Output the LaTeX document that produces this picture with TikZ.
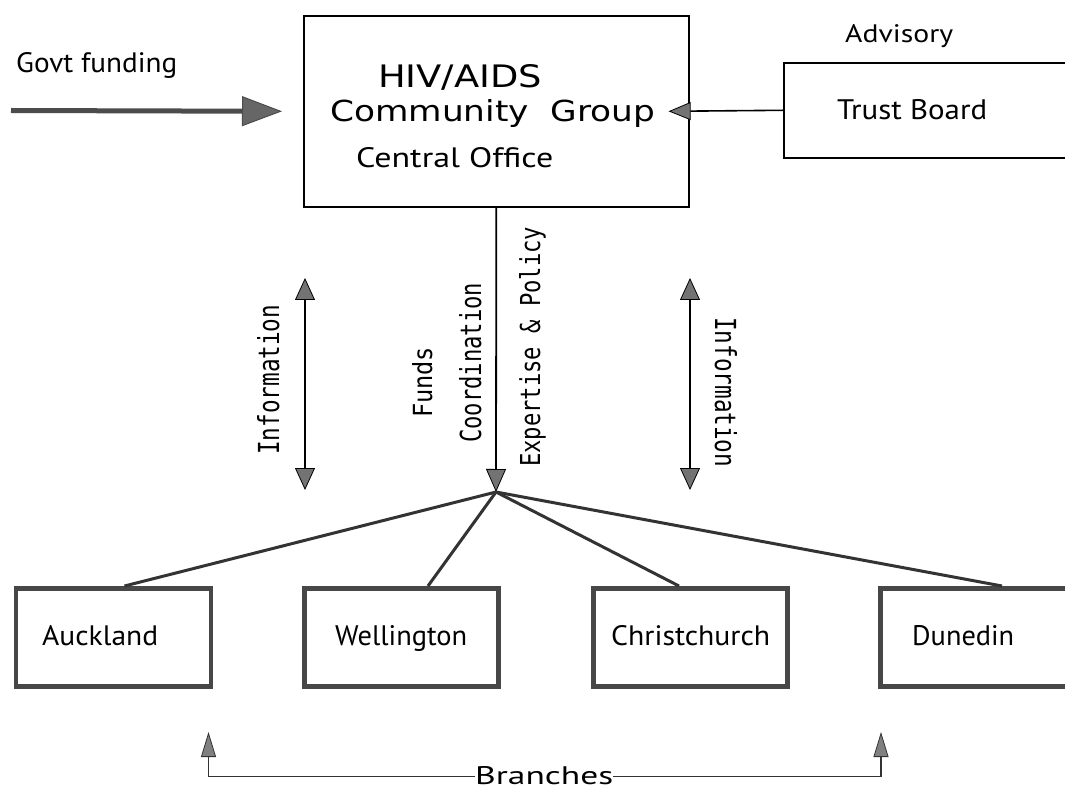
\documentclass[tikz,border=0pt]{standalone}
\usepackage{fontspec}
\setmainfont{PT Sans}
\newfontfamily\genevafont{DejaVu Sans}
\newfontfamily\monofont{DejaVu Sans Mono}
\usetikzlibrary{arrows.meta}
\newcommand{\fitbox}[3]{\resizebox{#1pt}{#2pt}{#3}}
\begin{document}
\begin{tikzpicture}[x=1pt,y=-1pt,
  lbl/.style={inner sep=0pt, anchor=base west},
  mainbox/.style={draw, line width=1.6pt, inner sep=0pt, anchor=north west},
  bbox/.style={draw=black!72, line width=4.5pt, inner sep=0pt, anchor=north west, minimum height=98pt},
  fanl/.style={draw=black!80, line width=3pt},
  govtarr/.style={draw=black!70, line width=5pt, -{Triangle[length=40pt,width=30pt,fill=black!60,line width=1pt]}},
  trustarr/.style={draw=black, line width=1.6pt, -{Triangle[length=22pt,width=18pt,fill=black!55,line width=0.8pt]}},
  downarr/.style={draw=black, line width=1.8pt, -{Triangle[length=23pt,width=20pt,fill=black!55,line width=0.8pt]}},
  infoarr/.style={draw=black, line width=1.8pt, {Triangle[length=22pt,width=20pt,fill=black!55,line width=0.8pt]}-{Triangle[length=22pt,width=20pt,fill=black!55,line width=0.8pt]}},
  brarr/.style={draw=black!80, line width=1.8pt, -{Triangle[length=25pt,width=15pt,fill=black!50,line width=0.8pt]}}
]
\useasboundingbox[fill=white] (0,0) rectangle (1065,791);

% top boxes
\node[mainbox, minimum width=385pt, minimum height=191pt] (central) at (303,15) {};
\node[mainbox, minimum width=300pt, minimum height=95pt] (trust) at (783,62) {};

% texts top
\node[lbl] (govt) at (16,73) {\fitbox{161}{20}{Govt funding}};
\node[lbl] (hiv) at (378,88) {\genevafont\fitbox{164}{23}{HIV/AIDS}};
\node[lbl] (comm) at (330,122) {\genevafont\fitbox{325}{22}{Community\ \ Group}};
\node[lbl] (office) at (356,168) {\fitbox{197}{20}{Central Office}};
\node[lbl] (advis) at (845,43) {\fitbox{108}{18}{Advisory}};
\node[lbl] (trusttxt) at (837,120) {\fitbox{150}{20}{Trust Board}};

% arrows top
\coordinate (gstart) at (11,110.5);
\draw[govtarr] (gstart) -- ([xshift=-21pt]central.west);
\draw[trustarr] (trust.west) -- ([xshift=-21pt]central.east);

% central vertical
\coordinate (fan) at (496,492);
\draw[downarr] (central.south) -- (fan);

% information arrows
\coordinate (il1) at (305,278);
\coordinate (il2) at (305,490);
\coordinate (ir1) at (690,278);
\coordinate (ir2) at (690,490);
\draw[infoarr] (il1) -- (il2);
\draw[infoarr] (ir1) -- (ir2);

% vertical labels
\node[lbl, rotate=90] (infol) at (279,455) {\monofont\fitbox{150}{22}{Information}};
\node[lbl, rotate=90] (funds) at (432,418) {\monofont\fitbox{71}{20}{Funds}};
\node[lbl, rotate=90] (coord) at (481,443) {\monofont\fitbox{160}{22}{Coordination}};
\node[lbl, rotate=90] (expert) at (540,467) {\monofont\fitbox{240}{21}{Expertise \& Policy}};
\node[lbl, rotate=-90] (infor) at (715,317) {\monofont\fitbox{150}{22}{Information}};

% branch boxes
\node[bbox, minimum width=195pt] (auck) at (13.5,586) {};
\node[bbox, minimum width=194pt] (well) at (302,586) {};
\node[bbox, minimum width=194pt] (chch) at (591,586) {};
\node[bbox, minimum width=220pt] (dun) at (878,586) {};

\node[lbl] (aucktxt) at (42,645) {\fitbox{116}{20}{Auckland}};
\node[lbl] (welltxt) at (335,645) {\fitbox{132}{20}{Wellington}};
\node[lbl] (chchtxt) at (611,645) {\fitbox{159}{20}{Christchurch}};
\node[lbl] (duntxt) at (912,645) {\fitbox{102}{20}{Dunedin}};

% fan lines
\draw[fanl] (fan) -- ([xshift=111pt]auck.north west);
\draw[fanl] (fan) -- ([xshift=126pt]well.north west);
\draw[fanl] (fan) -- ([xshift=88pt]chch.north west);
\draw[fanl] (fan) -- ([xshift=124pt]dun.north west);

% branches
\node[lbl] (br) at (475,784.5) {\fitbox{138}{18}{Branches}};
\coordinate (bl) at (208.5,732);
\coordinate (brr) at (881,732);
\draw[brarr] ([yshift=8pt]br.base west) -| (bl);
\draw[brarr] ([yshift=8pt]br.base east) -| (brr);
\end{tikzpicture}
\end{document}
